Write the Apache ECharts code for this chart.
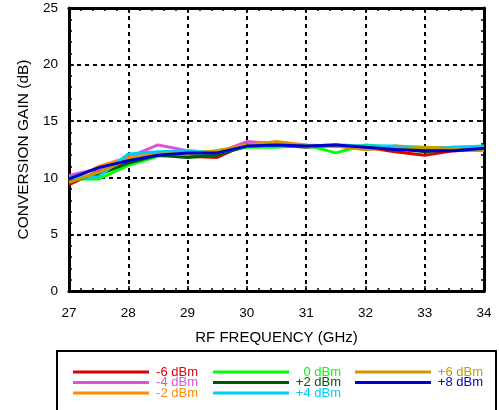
<!DOCTYPE html>
<html><head><meta charset="utf-8">
<script src="https://cdn.jsdelivr.net/npm/echarts@6/dist/echarts.min.js"></script>
<style>html,body{margin:0;padding:0;background:#fff}#c{width:499px;height:410px}</style>
</head><body><div id="c"></div>
<script>
const freqs = [27,27.5,28,28.5,29,29.5,30,30.5,31,31.5,32,32.5,33,33.5,34];
const seriesNames = ['-6 dBm','-4 dBm','-2 dBm','0 dBm','+2 dBm','+4 dBm','+6 dBm','+8 dBm'];
const seriesColors = ['#e00000','#d855d8','#ff8c00','#00ff00','#005a00','#00ccff','#cc9900','#0000cc'];
const gM6 = [9.4,10.6,11.5,12.2,11.9,11.8,13.0,13.1,12.8,12.8,12.7,12.3,12.0,12.4,12.5];
const gM4 = [10.2,10.8,11.8,12.9,12.4,12.2,13.2,13.0,12.8,12.9,12.8,12.7,12.6,12.7,12.7];
const gM2 = [9.7,11.0,11.8,12.2,12.1,12.4,12.9,13.2,12.9,12.8,12.5,12.8,12.7,12.6,12.6];
const g0  = [9.9,9.9,11.1,11.9,12.1,12.2,12.7,12.7,12.9,12.2,12.9,12.7,12.6,12.6,12.7];
const gP2 = [9.7,10.3,11.3,12.0,11.8,12.0,12.8,12.9,12.7,12.9,12.6,12.6,12.3,12.5,12.5];
const gP4 = [10.0,10.1,12.1,12.3,12.4,12.2,12.8,12.9,12.8,12.9,12.8,12.8,12.5,12.7,12.8];
const gP6 = [9.6,10.5,11.6,12.1,12.1,12.4,12.8,13.1,12.8,12.8,12.5,12.6,12.6,12.5,12.4];
const gP8 = [9.9,10.9,11.5,12.0,12.2,12.2,12.8,12.9,12.8,12.9,12.7,12.5,12.4,12.4,12.6];
const allGains = [gM6,gM4,gM2,g0,gP2,gP4,gP6,gP8];
const xTicks = [27,28,29,30,31,32,33,34];
const yTicks = [0,5,10,15,20,25];

const FONT = 'Liberation Sans, Arial, sans-serif';
const chart = echarts.init(document.getElementById('c'), null, {renderer:'canvas'});

const frameAxis = (extra) => Object.assign({
  axisLine:{show:true, onZero:false, lineStyle:{color:'#000', width:3}},
  axisTick:{show:true, inside:true, length:5, lineStyle:{color:'#000', width:1.5}},
  minorTick:{show:true, splitNumber:5, length:3, lineStyle:{color:'#000', width:1.5}},
}, extra);

const gridDash = {show:true, lineStyle:{color:'#000', width:2, type:[4,4]}};

const legendGraphics = [{
  type:'rect', shape:{x:57, y:351, width:439, height:70},
  style:{fill:'#fff', stroke:'#000', lineWidth:2}, z:10
}];
const colX = [[73,149,198],[213,289,341],[355,431,483]];
const rowY = [372,382.5,393];
seriesNames.forEach((n,i) => {
  const col = Math.floor(i/3), row = i%3;
  const [lx0,lx1,tx] = colX[col];
  legendGraphics.push({type:'line', shape:{x1:lx0,y1:rowY[row],x2:lx1,y2:rowY[row]},
    style:{stroke:seriesColors[i], lineWidth:3}, z:11});
  legendGraphics.push({type:'text', x:tx, y:rowY[row],
    style:{text:n, fill:seriesColors[i], font:'13px '+FONT, textAlign:'right', textVerticalAlign:'middle'}, z:11});
});

chart.setOption({
  animation:false,
  backgroundColor:'#fff',
  grid:{left:69, right:15, top:8, bottom:119, containLabel:false},
  xAxis:[
    frameAxis({type:'value', min:27, max:34, interval:1, position:'bottom',
      name:'RF FREQUENCY (GHz)', nameLocation:'middle', nameGap:39,
      nameTextStyle:{color:'#000', fontSize:15, fontFamily:FONT},
      axisLabel:{color:'#000', fontSize:13.5, fontFamily:FONT, margin:15,
        formatter:(v)=> xTicks.includes(v) ? String(v) : ''},
      splitLine:gridDash}),
    frameAxis({type:'value', min:27, max:34, interval:1, position:'top',
      axisLabel:{show:false}, splitLine:{show:false}})
  ],
  yAxis:[
    frameAxis({type:'value', min:0, max:25, interval:5, position:'left',
      name:'CONVERSION GAIN (dB)', nameLocation:'middle', nameGap:36,
      nameTextStyle:{color:'#000', fontSize:15.5, fontFamily:FONT},
      axisLabel:{color:'#000', fontSize:13.5, fontFamily:FONT, margin:11,
        formatter:(v)=> yTicks.includes(v) ? String(v) : ''},
      splitLine:gridDash}),
    frameAxis({type:'value', min:0, max:25, interval:5, position:'right',
      axisLabel:{show:false}, splitLine:{show:false}})
  ],
  series: allGains.map((g,i)=>({
    name:seriesNames[i], type:'line', xAxisIndex:0, yAxisIndex:0,
    data: freqs.map((f,j)=>[f,g[j]]),
    showSymbol:false, symbol:'none',
    lineStyle:{color:seriesColors[i], width:3},
    itemStyle:{color:seriesColors[i]}, z:3+i
  })),
  graphic: legendGraphics
});
</script></body></html>
